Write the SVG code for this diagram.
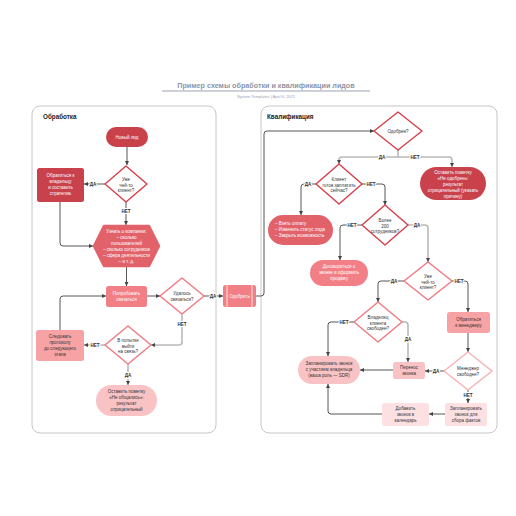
<svg xmlns="http://www.w3.org/2000/svg" width="516" height="516" viewBox="0 0 516 516">
<defs>
<marker id="a" viewBox="0 0 6 6" refX="6" refY="3" markerWidth="4" markerHeight="4" markerUnits="userSpaceOnUse" orient="auto"><path d="M0,0 L6,3 L0,6 z" fill="#444"/></marker>
<style>
text{font-family:"Liberation Sans",Arial,sans-serif}
.t{font-size:4.5px;text-anchor:middle}
.w{fill:#fff}
.d{fill:#333}
.lbl{font-size:4.6px;font-weight:bold;fill:#333;text-anchor:middle;stroke:#fff;stroke-width:2;paint-order:stroke}
.c{fill:none;stroke:#444;stroke-width:0.9;marker-end:url(#a)}
.g{fill:none;stroke:#b9b9b9;stroke-width:1.6;marker-end:url(#a)}
.panel{fill:#fff;stroke:#c6c6c6;stroke-width:1}
.dm{fill:#fff;stroke-width:1.5;stroke-linejoin:round}
</style>
</defs>
<rect width="516" height="516" fill="#fff"/>
<text x="266" y="88" font-size="7.2" font-weight="bold" fill="#8e95a7" text-anchor="middle">Пример схемы обработки и квалификации лидов</text>
<line x1="162" y1="91" x2="370" y2="91" stroke="#9ba1b2" stroke-width="1"/>
<text x="266" y="97.5" font-size="4" fill="#9ba1b2" text-anchor="middle">System Templates  |  April 6, 2021</text>

<rect class="panel" x="32" y="106" width="184" height="327" rx="8"/>
<text x="43" y="119" font-size="6.3" font-weight="bold" fill="#222">Обработка</text>
<rect class="panel" x="261" y="106" width="236" height="327" rx="8"/>
<text x="267" y="119" font-size="6.3" font-weight="bold" fill="#222">Квалификация</text>

<g id="connectors">
<path class="c" d="M127,147 V165"/>
<path class="c" d="M105,184 H84"/>
<path class="c" d="M126,202 V225"/>
<path class="c" d="M60,202 V243 Q60,246 63,246 H93"/>
<path class="c" d="M126.5,267 V286"/>
<path class="c" d="M147,296 H160"/>
<path class="c" d="M204,296 H223"/>
<path class="g" d="M182,314 V342 Q182,345 179,345 H151"/>
<path class="g" d="M105,345 H84"/>
<path class="c" d="M60,330 V299 Q60,296 63,296 H106"/>
<path class="g" d="M128,364 V385"/>
<path class="c" d="M256,296 H261 Q264,296 264,293 V134 Q264,131 267,131 H374"/>
<path class="g" d="M398,150 V157 H342 Q339,157 339,160 V164"/>
<path class="g" d="M398,157 H449 Q452,157 452,160 V167"/>
<path class="c" d="M316,184 H304 Q301,184 301,187 V215"/>
<path class="c" d="M362,184 H382 Q385,184 385,187 V205"/>
<path class="c" d="M362,225 H343 Q340,225 340,228 V260"/>
<path class="g" d="M408,225 H425 Q428,225 428,228 V262"/>
<path class="c" d="M404,281 H381 Q378,281 378,284 V302"/>
<path class="c" d="M452,281 H465 Q468,281 468,284 V312"/>
<path class="c" d="M468,333 V352"/>
<path class="c" d="M354,322 H331 Q328,322 328,325 V356"/>
<path class="g" d="M402,322 H405 Q408,322 408,325 V362"/>
<path class="c" d="M393,370 H360"/>
<path class="c" d="M444,371 H425"/>
<path class="c" d="M468,390 V403"/>
<path class="c" d="M445,414 H429"/>
<path class="c" d="M382,414 H331 Q328,414 328,411 V384"/>
<text class="lbl" x="93" y="185.6">ДА</text>
<text class="lbl" x="126" y="212.6">НЕТ</text>
<text class="lbl" x="213" y="297.6">ДА</text>
<text class="lbl" x="182" y="325.6">НЕТ</text>
<text class="lbl" x="95" y="346.6">НЕТ</text>
<text class="lbl" x="128" y="376.6">ДА</text>
<text class="lbl" x="382" y="158.6">ДА</text>
<text class="lbl" x="415" y="158.6">НЕТ</text>
<text class="lbl" x="308" y="185.6">ДА</text>
<text class="lbl" x="371" y="185.6">НЕТ</text>
<text class="lbl" x="352" y="226.6">НЕТ</text>
<text class="lbl" x="417" y="226.6">ДА</text>
<text class="lbl" x="394" y="282.6">ДА</text>
<text class="lbl" x="459" y="282.6">НЕТ</text>
<text class="lbl" x="344" y="323.6">НЕТ</text>
<text class="lbl" x="408" y="340.6">ДА</text>
<text class="lbl" x="436" y="372.6">ДА</text>
<text class="lbl" x="468" y="396.6">НЕТ</text>
</g>

<g id="n-new-lead"><rect x="106" y="127" width="42" height="20" rx="10" fill="#c8414b"/><text class="t w" x="127" y="138.6">Новый лид</text></g>
<g id="n-client1"><polygon class="dm" points="126,166 147,184 126,202 105,184" stroke="#d7434d"/><text class="t d"><tspan x="126" y="181">Уже</tspan><tspan x="126" y="186.5">чей-то</tspan><tspan x="126" y="192">клиент?</tspan></text></g>
<g id="n-owner"><rect x="37" y="168" width="47" height="34" rx="2.5" fill="#c8414b"/><text class="t w"><tspan x="60.5" y="177">Обратиться к</tspan><tspan x="60.5" y="183">владельцу</tspan><tspan x="60.5" y="189">и составить</tspan><tspan x="60.5" y="195">стратегию</tspan></text></g>
<g id="n-learn"><polygon points="94,246 104,226 149,226 159,246 149,266 104,266" fill="#e2626a" stroke="#e2626a" stroke-width="2.5" stroke-linejoin="round"/><text class="t w"><tspan x="126.5" y="233">Узнать о компании:</tspan><tspan x="126.5" y="239">– сколько</tspan><tspan x="126.5" y="245">пользователей</tspan><tspan x="126.5" y="251">– сколько сотрудников</tspan><tspan x="126.5" y="257">– сфера деятельности</tspan><tspan x="126.5" y="263">– и т. д.</tspan></text></g>
<g id="n-try"><rect x="106" y="286" width="41" height="21" rx="2.5" fill="#f17f85"/><text class="t w"><tspan x="126.5" y="295">Попробовать</tspan><tspan x="126.5" y="301">связаться</tspan></text></g>
<g id="n-reached"><polygon class="dm" points="182,278 204,296 182,314 160,296" stroke="#f07b82"/><text class="t d"><tspan x="182" y="295">Удалось</tspan><tspan x="182" y="300.5">связаться?</tspan></text></g>
<g id="n-approve"><rect x="223" y="285" width="33" height="22" rx="2.5" fill="#f17f85"/><line x1="227" y1="285" x2="227" y2="307" stroke="#fff" stroke-width="0.8"/><line x1="252" y1="285" x2="252" y2="307" stroke="#fff" stroke-width="0.8"/><text class="t w" x="239.5" y="297.6">Одобрить</text></g>
<g id="n-trying"><polygon class="dm" points="128,326 151,345 128,364 105,345" stroke="#f07b82"/><text class="t d"><tspan x="128" y="342">В попытке</tspan><tspan x="128" y="347.5">выйти</tspan><tspan x="128" y="353">на связь?</tspan></text></g>
<g id="n-follow"><rect x="36" y="330" width="48" height="31" rx="2.5" fill="#f7a3a6"/><text class="t d"><tspan x="60" y="338">Следовать</tspan><tspan x="60" y="344">протоколу</tspan><tspan x="60" y="350">до следующего</tspan><tspan x="60" y="356">этапа</tspan></text></g>
<g id="n-no-contact"><rect x="96" y="385" width="61" height="31" rx="15.5" fill="#f9c3c5"/><text class="t d"><tspan x="126.5" y="393">Оставить пометку</tspan><tspan x="126.5" y="399">«Не общались»:</tspan><tspan x="126.5" y="405">результат</tspan><tspan x="126.5" y="411">отрицательный</tspan></text></g>

<g id="n-approved"><polygon class="dm" points="398,112 422,131 398,150 374,131" stroke="#d7434d"/><text class="t d" x="398" y="132.6">Одобрен?</text></g>
<g id="n-rejected"><rect x="420" y="167" width="66" height="33" rx="16.5" fill="#c8414b"/><text class="t w"><tspan x="453" y="174">Оставить пометку</tspan><tspan x="453" y="180">«Не одобрен»:</tspan><tspan x="453" y="186">результат</tspan><tspan x="453" y="192">отрицательный (указать</tspan><tspan x="453" y="198">причину)</tspan></text></g>
<g id="n-pay-now"><polygon class="dm" points="339,164 362,184 339,204 316,184" stroke="#d7434d"/><text class="t d"><tspan x="339" y="181">Клиент</tspan><tspan x="339" y="186.5">готов заплатить</tspan><tspan x="339" y="192">сейчас?</tspan></text></g>
<g id="n-pay"><rect x="268" y="215" width="65" height="30" rx="15" fill="#e2626a"/><text class="t w" style="text-anchor:start"><tspan x="275" y="225">– Взять оплату</tspan><tspan x="275" y="231">– Изменить статус лида</tspan><tspan x="275" y="237">– Закрыть возможность</tspan></text></g>
<g id="n-200"><polygon class="dm" points="385,205 408,225 385,245 362,225" stroke="#d7434d"/><text class="t d"><tspan x="385" y="222">Более</tspan><tspan x="385" y="227.5">200</tspan><tspan x="385" y="233">сотрудников?</tspan></text></g>
<g id="n-arrange"><rect x="310" y="260" width="58" height="26" rx="13" fill="#f17f85"/><text class="t w"><tspan x="339" y="268">Договориться о</tspan><tspan x="339" y="274">звонке и оформить</tspan><tspan x="339" y="280">продажу</tspan></text></g>
<g id="n-client2"><polygon class="dm" points="428,262 452,281 428,300 404,281" stroke="#f07b82"/><text class="t d"><tspan x="428" y="278">Уже</tspan><tspan x="428" y="283.5">чей-то</tspan><tspan x="428" y="289">клиент?</tspan></text></g>
<g id="n-owner-free"><polygon class="dm" points="378,302 402,322 378,342 354,322" stroke="#f07b82"/><text class="t d"><tspan x="378" y="319">Владелец</tspan><tspan x="378" y="324.5">клиента</tspan><tspan x="378" y="330">свободен?</tspan></text></g>
<g id="n-manager"><rect x="447" y="312" width="43" height="21" rx="2.5" fill="#f7a3a6"/><text class="t d"><tspan x="468.5" y="321">Обратиться</tspan><tspan x="468.5" y="327">к менеджеру</tspan></text></g>
<g id="n-manager-free"><polygon class="dm" points="468,352 492,371 468,390 444,371" stroke="#f6b3b6"/><text class="t d"><tspan x="468" y="370">Менеджер</tspan><tspan x="468" y="375.5">свободен?</tspan></text></g>
<g id="n-transfer"><rect x="393" y="362" width="32" height="17" rx="2.5" fill="#f9c3c5"/><text class="t d"><tspan x="409" y="369">Перенос</tspan><tspan x="409" y="375">звонка</tspan></text></g>
<g id="n-schedule-owner"><rect x="298" y="356" width="62" height="28" rx="14" fill="#f9c3c5"/><text class="t d"><tspan x="329" y="365">Запланировать звонок</tspan><tspan x="329" y="371">с участием владельца</tspan><tspan x="329" y="377">(ваша роль — SDR)</tspan></text></g>
<g id="n-schedule-facts"><rect x="445" y="403" width="42" height="23" rx="2.5" fill="#fde1e2"/><text class="t d"><tspan x="466" y="410">Запланировать</tspan><tspan x="466" y="416">звонок для</tspan><tspan x="466" y="422">сбора фактов</tspan></text></g>
<g id="n-calendar"><rect x="382" y="403" width="47" height="23" rx="2.5" fill="#fde1e2"/><text class="t d"><tspan x="405.5" y="410">Добавить</tspan><tspan x="405.5" y="416">звонок в</tspan><tspan x="405.5" y="422">календарь</tspan></text></g>
</svg>
